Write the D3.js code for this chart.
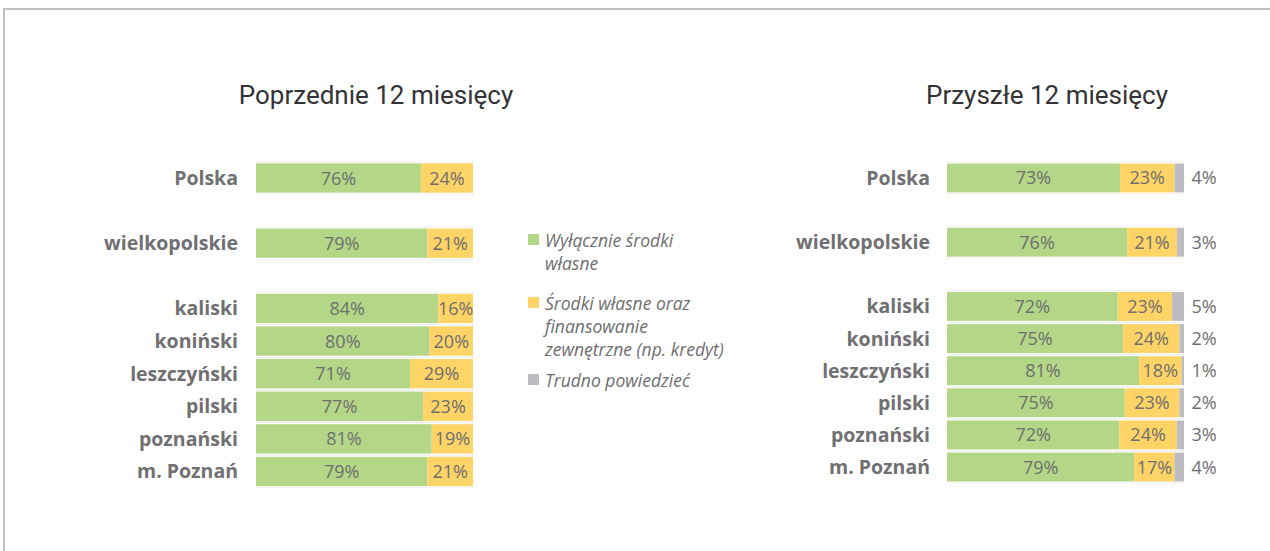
<!DOCTYPE html>
<html>
<head>
<meta charset="utf-8">
<script src="https://cdn.jsdelivr.net/npm/d3@7"></script>
<style>
  body { margin: 0; background: #fff; overflow: hidden; }
  svg { display: block; }
</style>
</head>
<body>
<div id="chart"></div>
<script>
// categories (gap slots keep the empty rows between groups)
var categories = ["Polska", "wielkopolskie", "kaliski", "koniński", "leszczyński", "pilski", "poznański", "m. Poznań"];
var slots = ["Polska", "gap1", "wielkopolskie", "gap2", "kaliski", "koniński", "leszczyński", "pilski", "poznański", "m. Poznań"];

// Poprzednie 12 miesiecy
var prevOwn = [76, 79, 84, 80, 71, 77, 81, 79];
var prevExt = [24, 21, 16, 20, 29, 23, 19, 21];

// Przyszle 12 miesiecy
var nextOwn  = [73, 76, 72, 75, 81, 75, 72, 79];
var nextExt  = [23, 21, 23, 24, 18, 23, 24, 17];
var nextHard = [4, 3, 5, 2, 1, 2, 3, 4];

var seriesNames = ["Wyłącznie środki własne", "Środki własne oraz finansowanie zewnętrzne (np. kredyt)", "Trudno powiedzieć"];
var titles = ["Poprzednie 12 miesięcy", "Przyszłe 12 miesięcy"];

var colors = ["#b3d787", "#ffd466", "#bdbdc1"];
var textCol = "#6e6e70";

var svgWidth = 1270, svgHeight = 551;

var svg = d3.select("#chart")
  .append("svg")
  .attr("width", svgWidth)
  .attr("height", svgHeight);

// frame
svg.append("line").attr("x1", 4).attr("x2", svgWidth).attr("y1", 9).attr("y2", 9)
  .attr("stroke", "#c0c0c4").attr("stroke-width", 2);
svg.append("line").attr("x1", 4).attr("x2", 4).attr("y1", 8).attr("y2", svgHeight)
  .attr("stroke", "#c0c0c4").attr("stroke-width", 2);

function drawPanel(opts) {
  var rows = categories.map(function(c, i){
    var vals = opts.series.map(function(s){ return s[i]; });
    var total = d3.sum(vals);
    var acc = 0;
    var segs = vals.map(function(v, k){
      var s = {k: k, v: v, x0: acc / total * 100, x1: (acc + v) / total * 100};
      acc += v;
      return s;
    });
    return {cat: c, segs: segs};
  });

  var x = d3.scaleLinear().domain([0, 100]).range(opts.xRange);
  var y = d3.scaleBand().domain(slots).range(opts.yRange).paddingInner(0.1).paddingOuter(0.05);

  var g = svg.append("g");

  g.append("text")
    .attr("x", opts.titleX)
    .attr("y", 104)
    .attr("text-anchor", "middle")
    .attr("font-family", "Roboto, sans-serif")
    .attr("font-size", 26)
    .attr("fill", "#333335")
    .text(opts.title);

  var row = g.selectAll("g.row").data(rows).enter().append("g")
    .attr("class", "row")
    .attr("transform", function(d){ return "translate(0," + y(d.cat) + ")"; });

  // faint dotted separators
  row.selectAll("line.sep").data([-1.5, y.bandwidth() + 1.5]).enter().append("line")
    .attr("x1", x(0)).attr("x2", x(100))
    .attr("y1", function(d){ return d; }).attr("y2", function(d){ return d; })
    .attr("stroke", "#e4e4e4").attr("stroke-width", 1).attr("stroke-dasharray", "1,1");

  row.selectAll("rect").data(function(d){ return d.segs; }).enter().append("rect")
    .attr("x", function(d){ return x(d.x0); })
    .attr("width", function(d){ return x(d.x1) - x(d.x0); })
    .attr("y", 0)
    .attr("height", y.bandwidth())
    .attr("fill", function(d){ return colors[d.k]; });

  row.selectAll("text.val").data(function(d){ return d.segs; }).enter().append("text")
    .attr("class", "val")
    .attr("x", function(d){ return d.k == 2 ? x(100) + 20 : (x(d.x0) + x(d.x1)) / 2; })
    .attr("y", y.bandwidth() / 2 + 6.5)
    .attr("text-anchor", "middle")
    .attr("font-family", "'Open Sans', sans-serif")
    .attr("font-size", 18)
    .attr("fill", textCol)
    .text(function(d){ return d.v + "%"; });

  row.append("text")
    .attr("x", opts.labelX)
    .attr("y", y.bandwidth() / 2 + 7)
    .attr("text-anchor", "end")
    .attr("font-family", "'Open Sans', sans-serif")
    .attr("font-weight", 700)
    .attr("font-size", 19.5)
    .attr("fill", "#707072")
    .text(function(d){ return d.cat; });
}

drawPanel({
  series: [prevOwn, prevExt],
  xRange: [256, 473],
  yRange: [161.7, 487.8],
  labelX: 238,
  titleX: 376,
  title: titles[0]
});

drawPanel({
  series: [nextOwn, nextExt, nextHard],
  xRange: [947, 1184],
  yRange: [161.9, 483.1],
  labelX: 930,
  titleX: 1047,
  title: titles[1]
});

// legend
var legendLines = [
  ["Wyłącznie środki", "własne"],
  ["Środki własne oraz", "finansowanie", "zewnętrzne (np. kredyt)"],
  ["Trudno powiedzieć"]
];
var legendTop = [247, 310, 387];

var lg = svg.append("g");
var item = lg.selectAll("g").data(seriesNames).enter().append("g")
  .attr("transform", function(d, i){ return "translate(528," + legendTop[i] + ")"; });

item.append("rect")
  .attr("x", 0).attr("y", -13).attr("width", 11).attr("height", 11)
  .attr("fill", function(d, i){ return colors[i]; });

item.append("text")
  .attr("font-family", "'Open Sans', sans-serif")
  .attr("font-style", "italic")
  .attr("font-size", 17.5)
  .attr("fill", textCol)
  .selectAll("tspan").data(function(d, i){ return legendLines[i]; }).enter().append("tspan")
  .attr("x", 17)
  .attr("y", function(d, j){ return j * 23; })
  .text(function(d){ return d; });
</script>
</body>
</html>
